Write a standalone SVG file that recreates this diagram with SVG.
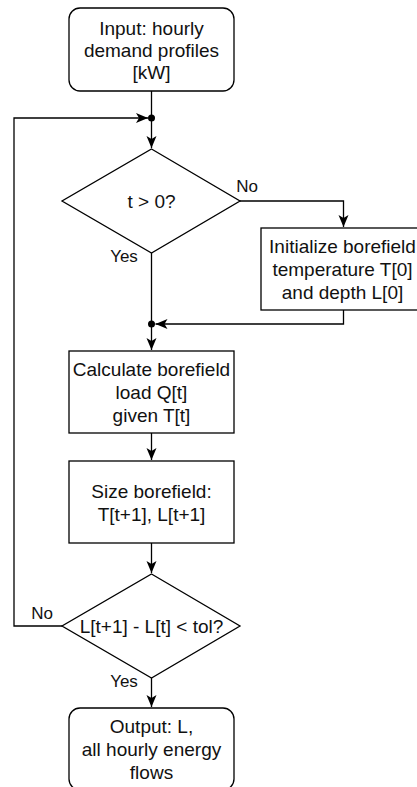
<svg xmlns="http://www.w3.org/2000/svg" width="417" height="787" viewBox="0 0 417 787">
<style>
.b{fill:#fff;stroke:#000;stroke-width:1.3}
.c{fill:none;stroke:#000;stroke-width:1.3}
text{font-family:"Liberation Sans",Arial,sans-serif;font-size:19px;fill:#111;text-anchor:middle}
.l{font-size:17px}
</style>
<defs>
<marker id="a" markerUnits="userSpaceOnUse" markerWidth="14" markerHeight="12" refX="12" refY="5" orient="auto">
<path d="M0,0 L12,5 L0,10 L3,5 Z" fill="#000"/>
</marker>
</defs>
<rect width="417" height="787" fill="#fff"/>
<g id="connectors">
<path class="c" d="M151.5,91 V118"/>
<path class="c" d="M151.5,118 V148" marker-end="url(#a)"/>
<path class="c" d="M240,201 H343.5 V227" marker-end="url(#a)"/>
<path class="c" d="M151.5,253 V324"/>
<path class="c" d="M343.5,310 V324 H155.5" marker-end="url(#a)"/>
<path class="c" d="M151.5,324 V350" marker-end="url(#a)"/>
<path class="c" d="M151.5,433 V460" marker-end="url(#a)"/>
<path class="c" d="M151.5,543 V573" marker-end="url(#a)"/>
<path class="c" d="M62,626 H14 V118 H148" marker-end="url(#a)"/>
<path class="c" d="M151.5,678 V707" marker-end="url(#a)"/>
<circle cx="151.5" cy="118" r="3.5" fill="#000"/>
<circle cx="151.5" cy="324" r="3.5" fill="#000"/>
<text class="l" x="247" y="192">No</text>
<text class="l" x="124" y="262">Yes</text>
<text class="l" x="42" y="619">No</text>
<text class="l" x="124" y="687">Yes</text>
</g>
<g id="input">
<rect class="b" x="69" y="8" width="165" height="83" rx="11"/>
<text x="151.5" y="35">Input: hourly</text>
<text x="151.5" y="57">demand profiles</text>
<text x="151.5" y="79">[kW]</text>
</g>
<g id="decision1">
<path class="b" d="M151.5,149 L240,201 L151.5,253 L62,201 Z"/>
<text x="151.5" y="208">t &gt; 0?</text>
</g>
<g id="init">
<rect class="b" x="261" y="228" width="165" height="82"/>
<text x="342.5" y="253">Initialize borefield</text>
<text x="342.5" y="276">temperature T[0]</text>
<text x="342.5" y="299">and depth L[0]</text>
</g>
<g id="calc">
<rect class="b" x="69" y="351" width="165" height="82"/>
<text x="151.5" y="376">Calculate borefield</text>
<text x="151.5" y="399">load Q[t]</text>
<text x="151.5" y="422">given T[t]</text>
</g>
<g id="size">
<rect class="b" x="69" y="461" width="165" height="82"/>
<text x="151.5" y="498">Size borefield:</text>
<text x="151.5" y="521">T[t+1], L[t+1]</text>
</g>
<g id="decision2">
<path class="b" d="M151.5,574 L240,626 L151.5,678 L62,626 Z"/>
<text x="151.5" y="633">L[t+1] - L[t] &lt; tol?</text>
</g>
<g id="output">
<rect class="b" x="69" y="708" width="165" height="82" rx="11"/>
<text x="151.5" y="733">Output: L,</text>
<text x="151.5" y="756">all hourly energy</text>
<text x="151.5" y="779">flows</text>
</g>
</svg>
